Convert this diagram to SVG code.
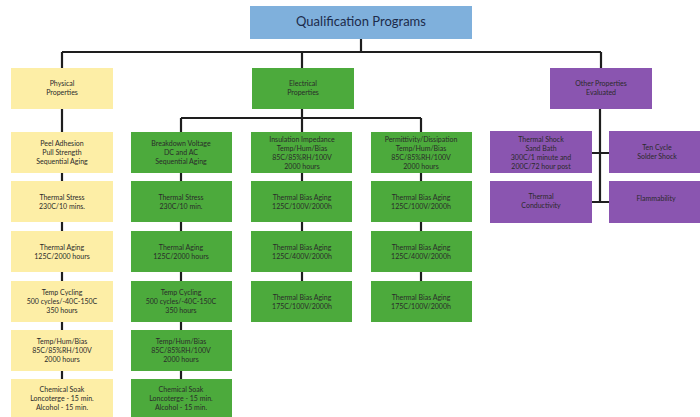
<svg xmlns="http://www.w3.org/2000/svg" width="700" height="417" viewBox="0 0 700 417">
<style>
.t{font-family:Lato,"Open Sans","Liberation Sans",sans-serif;font-size:7px;fill:#2a2a2a;text-anchor:middle}
.title{font-family:Lato,"Open Sans","Liberation Sans",sans-serif;font-size:13px;fill:#1c2b4a;text-anchor:middle}
.b{fill:#7fb0dc}
.y{fill:#fdeea6}
.g{fill:#4caa3c}
.p{fill:#8a55b0}
.c{stroke:#1e1e1e;stroke-width:2.2;fill:none}
</style>
<rect width="700" height="417" fill="#ffffff"/>
<g id="connectors">
<path class="c" d="M361 39V52M62 52H601M62 52V68M302 52V68M601 52V68"/>
<path class="c" d="M62 109V132M62 173V181M62 222V231M62 272V281M62 322V330M62 371V379"/>
<path class="c" d="M302 109V118M181 118H421M181 118V132M302 118V132M421 118V132"/>
<path class="c" d="M181 173V181M181 222V231M181 272V281M181 322V330M181 371V379"/>
<path class="c" d="M302 173V181M302 222V231M302 272V281"/>
<path class="c" d="M421 173V181M421 222V231M421 272V281"/>
<path class="c" d="M600 109V202M592 153H609M592 202H609"/>
</g>
<g id="title"><rect class="b" x="250" y="6" width="222" height="33"/><text class="title" x="361" y="26">Qualification Programs</text></g>
<g id="physical"><rect class="y" x="11" y="68" width="102" height="41"/><text class="t" x="62" y="86">Physical</text><text class="t" x="62" y="95">Properties</text></g>
<g id="electrical"><rect class="g" x="252" y="68" width="102" height="41"/><text class="t" x="303" y="86">Electrical</text><text class="t" x="303" y="95">Properties</text></g>
<g id="other"><rect class="p" x="550" y="68" width="102" height="41"/><text class="t" x="601" y="86">Other Properties</text><text class="t" x="601" y="95">Evaluated</text></g>

<g id="p1"><rect class="y" x="11" y="132" width="102" height="41"/><text class="t" x="62" y="145.5">Peel Adhesion</text><text class="t" x="62" y="154.5">Pull Strength</text><text class="t" x="62" y="163.5">Sequential Aging</text></g>
<g id="p2"><rect class="y" x="11" y="181" width="102" height="41"/><text class="t" x="62" y="199.5">Thermal Stress</text><text class="t" x="62" y="208.5">230C/10 mins.</text></g>
<g id="p3"><rect class="y" x="11" y="231" width="102" height="41"/><text class="t" x="62" y="249.5">Thermal Aging</text><text class="t" x="62" y="258.5">125C/2000 hours</text></g>
<g id="p4"><rect class="y" x="11" y="281" width="102" height="41"/><text class="t" x="62" y="294.5">Temp Cycling</text><text class="t" x="62" y="303.5">500 cycles/-40C-150C</text><text class="t" x="62" y="312.5">350 hours</text></g>
<g id="p5"><rect class="y" x="11" y="330" width="102" height="41"/><text class="t" x="62" y="344">Temp/Hum/Bias</text><text class="t" x="62" y="353">85C/85%RH/100V</text><text class="t" x="62" y="362">2000 hours</text></g>
<g id="p6"><rect class="y" x="11" y="379" width="102" height="42"/><text class="t" x="62" y="391.5">Chemical Soak</text><text class="t" x="62" y="400.5">Loncoterge - 15 min.</text><text class="t" x="62" y="409.5">Alcohol - 15 min.</text></g>

<g id="e1"><rect class="g" x="131" y="132" width="101" height="41"/><text class="t" x="181" y="145.5">Breakdown Voltage</text><text class="t" x="181" y="154.5">DC and AC</text><text class="t" x="181" y="163.5">Sequential Aging</text></g>
<g id="e2"><rect class="g" x="131" y="181" width="101" height="41"/><text class="t" x="181" y="199.5">Thermal Stress</text><text class="t" x="181" y="208.5">230C/10 min.</text></g>
<g id="e3"><rect class="g" x="131" y="231" width="101" height="41"/><text class="t" x="181" y="249.5">Thermal Aging</text><text class="t" x="181" y="258.5">125C/2000 hours</text></g>
<g id="e4"><rect class="g" x="131" y="281" width="101" height="41"/><text class="t" x="181" y="294.5">Temp Cycling</text><text class="t" x="181" y="303.5">500 cycles/-40C-150C</text><text class="t" x="181" y="312.5">350 hours</text></g>
<g id="e5"><rect class="g" x="131" y="330" width="101" height="41"/><text class="t" x="181" y="344">Temp/Hum/Bias</text><text class="t" x="181" y="353">85C/85%RH/100V</text><text class="t" x="181" y="362">2000 hours</text></g>
<g id="e6"><rect class="g" x="131" y="379" width="101" height="42"/><text class="t" x="181" y="391.5">Chemical Soak</text><text class="t" x="181" y="400.5">Loncoterge - 15 min.</text><text class="t" x="181" y="409.5">Alcohol - 15 min.</text></g>

<g id="i1"><rect class="g" x="251" y="132" width="101" height="41"/><text class="t" x="302" y="141.5">Insulation Impedance</text><text class="t" x="302" y="150.5">Temp/Hum/Bias</text><text class="t" x="302" y="159.5">85C/85%RH/100V</text><text class="t" x="302" y="168.5">2000 hours</text></g>
<g id="i2"><rect class="g" x="251" y="181" width="101" height="41"/><text class="t" x="302" y="199.5">Thermal Bias Aging</text><text class="t" x="302" y="208.5">125C/100V/2000h</text></g>
<g id="i3"><rect class="g" x="251" y="231" width="101" height="41"/><text class="t" x="302" y="249.5">Thermal Bias Aging</text><text class="t" x="302" y="258.5">125C/400V/2000h</text></g>
<g id="i4"><rect class="g" x="251" y="281" width="101" height="41"/><text class="t" x="302" y="299.5">Thermal Bias Aging</text><text class="t" x="302" y="308.5">175C/100V/2000h</text></g>

<g id="d1"><rect class="g" x="371" y="132" width="101" height="41"/><text class="t" x="421" y="141.5">Permittivity/Dissipation</text><text class="t" x="421" y="150.5">Temp/Hum/Bias</text><text class="t" x="421" y="159.5">85C/85%RH/100V</text><text class="t" x="421" y="168.5">2000 hours</text></g>
<g id="d2"><rect class="g" x="371" y="181" width="101" height="41"/><text class="t" x="421" y="199.5">Thermal Bias Aging</text><text class="t" x="421" y="208.5">125C/100V/2000h</text></g>
<g id="d3"><rect class="g" x="371" y="231" width="101" height="41"/><text class="t" x="421" y="249.5">Thermal Bias Aging</text><text class="t" x="421" y="258.5">125C/400V/2000h</text></g>
<g id="d4"><rect class="g" x="371" y="281" width="101" height="41"/><text class="t" x="421" y="299.5">Thermal Bias Aging</text><text class="t" x="421" y="308.5">175C/100V/2000h</text></g>

<g id="o1"><rect class="p" x="490" y="131" width="102" height="42"/><text class="t" x="541" y="141.5">Thermal Shock</text><text class="t" x="541" y="150.5">Sand Bath</text><text class="t" x="541" y="159.5">300C/1 minute and</text><text class="t" x="541" y="168.5">200C/72 hour post</text></g>
<g id="o2"><rect class="p" x="609" y="131" width="91" height="42"/><text class="t" x="657" y="150">Ten Cycle</text><text class="t" x="657" y="158.5">Solder Shock</text></g>
<g id="o3"><rect class="p" x="490" y="181" width="102" height="42"/><text class="t" x="541" y="198.5">Thermal</text><text class="t" x="541" y="207.5">Conductivity</text></g>
<g id="o4"><rect class="p" x="609" y="181" width="91" height="42"/><text class="t" x="656" y="200.5">Flammability</text></g>
</svg>
